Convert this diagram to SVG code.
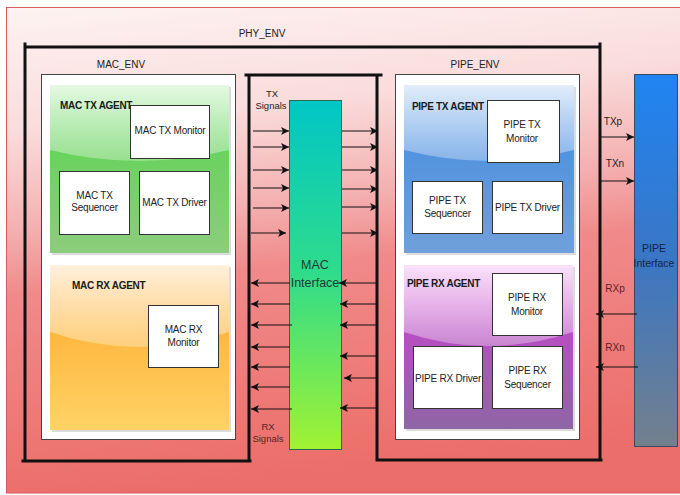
<svg xmlns="http://www.w3.org/2000/svg" width="680" height="495" viewBox="0 0 680 495">
<defs>
<linearGradient id="bg" x1="0" y1="0" x2="0.15" y2="1">
<stop offset="0" stop-color="#fdf3f2"/>
<stop offset="0.25" stop-color="#fadcdc"/>
<stop offset="0.45" stop-color="#f4b0b0"/>
<stop offset="0.58" stop-color="#f08a8a"/>
<stop offset="1" stop-color="#ec6e6a"/>
</linearGradient>
<linearGradient id="gGreen" x1="0" y1="0" x2="0" y2="1">
<stop offset="0" stop-color="#52d64a"/>
<stop offset="1" stop-color="#8ccd7c"/>
</linearGradient>
<linearGradient id="gOrange" x1="0" y1="0" x2="0" y2="1">
<stop offset="0" stop-color="#ffa424"/>
<stop offset="1" stop-color="#ffd366"/>
</linearGradient>
<linearGradient id="gBlue" x1="0" y1="0" x2="0" y2="1">
<stop offset="0" stop-color="#3f8ae3"/>
<stop offset="1" stop-color="#70a0da"/>
</linearGradient>
<linearGradient id="gPurple" x1="0" y1="0" x2="0" y2="1">
<stop offset="0" stop-color="#d43ed4"/>
<stop offset="1" stop-color="#8e66a6"/>
</linearGradient>
<linearGradient id="gloss" x1="0" y1="0" x2="0" y2="1">
<stop offset="0" stop-color="#ffffff" stop-opacity="0.85"/>
<stop offset="1" stop-color="#ffffff" stop-opacity="0.3"/>
</linearGradient>
<linearGradient id="gMac" x1="0" y1="0" x2="0" y2="1">
<stop offset="0" stop-color="#00c6c6"/>
<stop offset="0.5" stop-color="#30dc8a"/>
<stop offset="1" stop-color="#a2f232"/>
</linearGradient>
<linearGradient id="gPipe" x1="0" y1="0" x2="0" y2="1">
<stop offset="0" stop-color="#1f84f2"/>
<stop offset="0.5" stop-color="#3a76c4"/>
<stop offset="1" stop-color="#74808c"/>
</linearGradient>
<marker id="ah" markerUnits="userSpaceOnUse" markerWidth="9" markerHeight="8" refX="8" refY="4" orient="auto">
<path d="M0,0 L8,4 L0,8 L2,4 z" fill="#111"/>
</marker>
</defs>
<style>
text{font-family:"Liberation Sans",Arial,sans-serif;fill:#222;}
.lbl{font-size:10px;text-anchor:middle;letter-spacing:-0.2px;}
.agent{font-size:10px;font-weight:bold;letter-spacing:-0.3px;fill:#1a1a1a;}
.env{font-size:10px;text-anchor:middle;}
.sig{font-size:9.5px;text-anchor:middle;}
.dark{fill:#5a2222;}
.box{fill:#ffffff;stroke:#333;stroke-width:1;}
.envbox{fill:#ffffff;stroke:#444;stroke-width:1;}
.shadow{fill:#9a9a9a;opacity:0.35;}
.thick{stroke:#111;stroke-width:3;fill:none;stroke-linecap:square;}
.arr{stroke:#111;stroke-width:1.2;fill:none;marker-end:url(#ah);}
</style>

<rect id="background" x="6.5" y="7.5" width="680" height="485.5" fill="url(#bg)" stroke="#d85a5a" stroke-width="1"/>

<g id="phy_env">
<text class="env" x="262" y="37">PHY_ENV</text>
<path class="thick" d="M25,44 V461 M23,461 H250 M249,461 V76 M246,75 H381 M377,76 V460 M377,460 H601 M600,44 V460 M25,47 H600"/>
</g>

<g id="mac_env">
<text class="env" x="121" y="68">MAC_ENV</text>
<rect class="envbox" x="41.5" y="74.5" width="194" height="365"/>
</g>

<g id="mac_tx_agent">
<rect class="shadow" x="52" y="87" width="179" height="168"/>
<rect x="50" y="85" width="179" height="168" fill="url(#gGreen)"/>
<path d="M50,85 H229 V150 Q139,172 50,150 Z" fill="url(#gloss)"/>
<g id="mac_tx_monitor"><rect class="box" x="130.5" y="105.5" width="79" height="53"/><text class="lbl" x="170" y="134">MAC TX Monitor</text></g>
<g id="mac_tx_sequencer"><rect class="box" x="59.5" y="171.5" width="70" height="63"/><text class="lbl" x="94.5" y="199">MAC TX</text><text class="lbl" x="94.5" y="211">Sequencer</text></g>
<g id="mac_tx_driver"><rect class="box" x="139.5" y="171.5" width="70" height="63"/><text class="lbl" x="174.5" y="206">MAC TX Driver</text></g>
<text class="agent" x="60" y="109">MAC TX AGENT</text>
</g>

<g id="mac_rx_agent">
<rect class="shadow" x="52" y="267" width="179" height="165"/>
<rect x="50" y="265" width="179" height="165" fill="url(#gOrange)"/>
<path d="M50,265 H229 V332 Q139,362 50,332 Z" fill="url(#gloss)"/>
<text class="agent" x="72" y="289">MAC RX AGENT</text>
<g id="mac_rx_monitor"><rect class="box" x="148.5" y="305.5" width="70" height="62"/><text class="lbl" x="183.5" y="333">MAC RX</text><text class="lbl" x="183.5" y="346">Monitor</text></g>
</g>

<g id="mac_interface">
<rect x="289.5" y="100.5" width="52" height="349" fill="url(#gMac)" stroke="#2a6a50" stroke-width="1"/>
<text x="315" y="269" style="font-size:12.5px;text-anchor:middle;fill:#1c3a36;">MAC</text>
<text x="315" y="287" style="font-size:12.5px;text-anchor:middle;fill:#1c3a36;">Interface</text>
</g>

<g id="pipe_env">
<text class="env" x="475" y="68">PIPE_ENV</text>
<rect class="envbox" x="395.5" y="74.5" width="184" height="365"/>
</g>

<g id="pipe_tx_agent">
<rect class="shadow" x="406" y="87" width="170" height="168"/>
<rect x="404" y="85" width="170" height="168" fill="url(#gBlue)"/>
<path d="M404,85 H574 V150 Q489,172 404,150 Z" fill="url(#gloss)"/>
<text class="agent" x="412" y="110">PIPE TX AGENT</text>
<g id="pipe_tx_monitor"><rect class="box" x="487.5" y="100.5" width="72" height="62"/><text class="lbl" x="522" y="128">PIPE TX</text><text class="lbl" x="522" y="142">Monitor</text></g>
<g id="pipe_tx_sequencer"><rect class="box" x="412.5" y="181.5" width="70" height="52"/><text class="lbl" x="447.5" y="204">PIPE TX</text><text class="lbl" x="447.5" y="217">Sequencer</text></g>
<g id="pipe_tx_driver"><rect class="box" x="492.5" y="181.5" width="70" height="52"/><text class="lbl" x="527.5" y="211">PIPE TX Driver</text></g>
</g>

<g id="pipe_rx_agent">
<rect class="shadow" x="406" y="267" width="169" height="164"/>
<rect x="404" y="265" width="169" height="164" fill="url(#gPurple)"/>
<path d="M404,265 H573 V332 Q488,360 404,332 Z" fill="url(#gloss)"/>
<text class="agent" x="407" y="287">PIPE RX AGENT</text>
<g id="pipe_rx_monitor"><rect class="box" x="492.5" y="273.5" width="70" height="62"/><text class="lbl" x="527" y="301">PIPE RX</text><text class="lbl" x="527" y="315">Monitor</text></g>
<g id="pipe_rx_driver"><rect class="box" x="413.5" y="346.5" width="69" height="62"/><text class="lbl" x="448" y="382">PIPE RX Driver</text></g>
<g id="pipe_rx_sequencer"><rect class="box" x="492.5" y="346.5" width="70" height="62"/><text class="lbl" x="527.5" y="374">PIPE RX</text><text class="lbl" x="527.5" y="388">Sequencer</text></g>
</g>

<g id="pipe_interface">
<rect x="634.5" y="74.5" width="43" height="372" fill="url(#gPipe)" stroke="#3a4a60" stroke-width="1"/>
<text x="654" y="252" style="font-size:10.5px;text-anchor:middle;fill:#142440;">PIPE</text>
<text x="654" y="267" style="font-size:10.5px;text-anchor:middle;fill:#142440;">Interface</text>
</g>

<g id="labels">
<text class="sig" x="272" y="97">TX</text>
<text class="sig" x="271" y="109">Signals</text>
<text class="sig dark" x="268" y="430">RX</text>
<text class="sig dark" x="268" y="442">Signals</text>
<text class="sig" x="613" y="125" style="font-size:10px">TXp</text>
<text class="sig" x="615" y="167" style="font-size:10px">TXn</text>
<text class="sig dark" x="615" y="292" style="font-size:10px">RXp</text>
<text class="sig dark" x="615" y="351" style="font-size:10px">RXn</text>
</g>

<g id="connectors">
<line class="arr" x1="253" y1="131" x2="289" y2="131"/>
<line class="arr" x1="253" y1="147" x2="289" y2="147"/>
<line class="arr" x1="253" y1="170" x2="289" y2="170"/>
<line class="arr" x1="253" y1="188" x2="289" y2="188"/>
<line class="arr" x1="253" y1="208" x2="289" y2="208"/>
<line class="arr" x1="251" y1="233" x2="286" y2="233"/>
<line class="arr" x1="342" y1="131" x2="378" y2="131"/>
<line class="arr" x1="342" y1="147" x2="378" y2="147"/>
<line class="arr" x1="342" y1="170" x2="378" y2="170"/>
<line class="arr" x1="342" y1="189" x2="378" y2="189"/>
<line class="arr" x1="342" y1="207" x2="378" y2="207"/>
<line class="arr" x1="342" y1="233" x2="378" y2="233"/>
<line class="arr" x1="290" y1="283" x2="251" y2="283"/>
<line class="arr" x1="290" y1="304" x2="251" y2="304"/>
<line class="arr" x1="292" y1="325" x2="251" y2="325"/>
<line class="arr" x1="290" y1="347" x2="251" y2="347"/>
<line class="arr" x1="290" y1="367" x2="251" y2="367"/>
<line class="arr" x1="290" y1="387" x2="251" y2="387"/>
<line class="arr" x1="292" y1="409" x2="251" y2="409"/>
<line class="arr" x1="377" y1="283" x2="339" y2="283"/>
<line class="arr" x1="377" y1="304" x2="340" y2="304"/>
<line class="arr" x1="377" y1="325" x2="340" y2="325"/>
<line class="arr" x1="377" y1="356" x2="340" y2="356"/>
<line class="arr" x1="377" y1="378" x2="344" y2="378"/>
<line class="arr" x1="377" y1="408" x2="340" y2="408"/>
<line class="arr" x1="601" y1="137" x2="634" y2="137"/>
<line class="arr" x1="601" y1="181" x2="634" y2="181"/>
<line class="arr" x1="637" y1="314" x2="596" y2="314"/>
<line class="arr" x1="638" y1="367" x2="596" y2="367"/>
</g>
</svg>
